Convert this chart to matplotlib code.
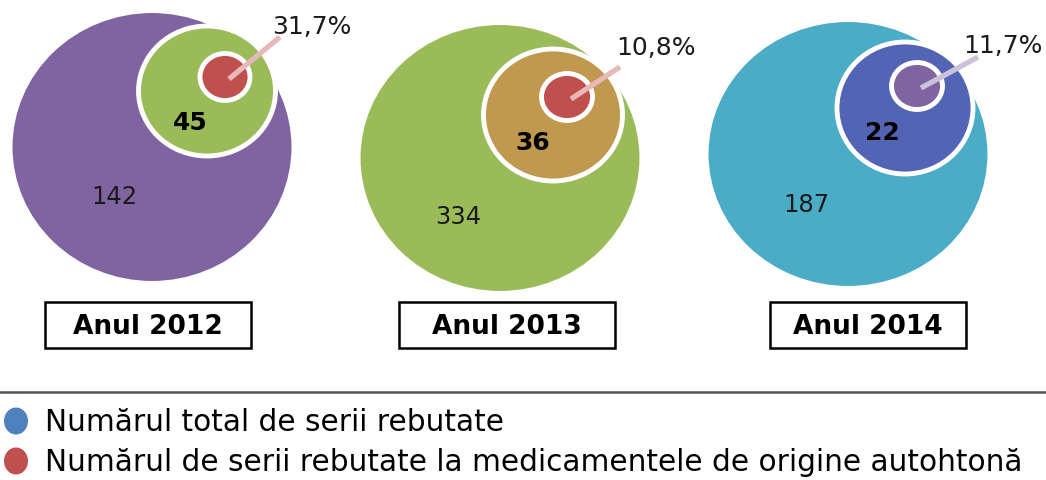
import matplotlib
matplotlib.use("Agg")
import matplotlib.pyplot as plt
from matplotlib.patches import Ellipse, Rectangle

# data
years = ["2012", "2013", "2014"]
total_rejected = [142, 334, 187]
domestic_rejected = [45, 36, 22]
domestic_share = [31.7, 10.8, 11.7]

legend_labels = ["Numărul total de serii rebutate",
                 "Numărul de serii rebutate la medicamentele de origine autohtonă"]

# colours per year: outer, middle, inner, leader line
outer_colors = ["#8064A2", "#9BBB59", "#4BACC6"]
mid_colors = ["#9BBB59", "#C0994F", "#5464B4"]
inner_colors = ["#C0504D", "#C0504D", "#8064A2"]
leader_colors = ["#E6B9B8", "#E6B9B8", "#CCC1DA"]

# layout (pixel coordinates)
outer_xy = [(152, 148), (500, 159), (848, 155)]
outer_wh = [(281, 270), (281, 268), (281, 266)]
mid_xy = [(207, 92), (553, 116), (905, 109)]
mid_wh = [(137, 130), (139, 132), (136, 132)]
inner_xy = [(225, 78), (567, 98), (917, 87)]
inner_wh = [(50, 47), (51, 47), (51, 47)]
total_lbl_xy = [(114, 197), (458, 217), (806, 205)]
dom_lbl_xy = [(190, 123), (533, 143), (882, 133)]
pct_xy = [(312, 27), (656, 48), (1003, 46)]
leader_end = [(280, 38), (620, 68), (978, 58)]
box_x = [(45, 251), (399, 615), (770, 966)]

fig = plt.figure(figsize=(10.46, 4.81), dpi=100)
ax = fig.add_axes([0, 0, 1, 1])
ax.set_xlim(0, 1046)
ax.set_ylim(481, 0)
ax.axis("off")

for i in range(3):
    ax.add_patch(Ellipse(outer_xy[i], *outer_wh[i], facecolor=outer_colors[i],
                         edgecolor="white", lw=1.5, zorder=1))
    ax.add_patch(Ellipse(mid_xy[i], *mid_wh[i], facecolor=mid_colors[i],
                         edgecolor="white", lw=3.5, zorder=2))
    ax.add_patch(Ellipse(inner_xy[i], *inner_wh[i], facecolor=inner_colors[i],
                         edgecolor="white", lw=3.5, zorder=3))
    ax.plot([inner_xy[i][0] + 4, leader_end[i][0]], [inner_xy[i][1] + 2, leader_end[i][1]],
            color=leader_colors[i], lw=3.8, solid_capstyle="butt", zorder=4)
    ax.text(*total_lbl_xy[i], str(total_rejected[i]), fontsize=17.5, color="#1a1a1a",
            ha="center", va="center", zorder=5)
    ax.text(*dom_lbl_xy[i], str(domestic_rejected[i]), fontsize=18, fontweight="bold",
            color="black", ha="center", va="center", zorder=5)
    ax.text(*pct_xy[i], f"{domestic_share[i]:.1f}%".replace(".", ","), fontsize=18,
            color="#1a1a1a", ha="center", va="center", zorder=5)
    x0, x1 = box_x[i]
    ax.add_patch(Rectangle((x0, 303), x1 - x0, 46, facecolor="white",
                           edgecolor="black", lw=1.8, zorder=5))
    ax.text((x0 + x1) / 2, 327, "Anul " + years[i], fontsize=19, fontweight="bold",
            ha="center", va="center", zorder=6)

# separator and legend
ax.plot([0, 1046], [393, 393], color="#555555", lw=1.8)
for j, (lbl, col) in enumerate(zip(legend_labels, ["#4F81BD", "#C0504D"])):
    y = 422 + j * 40
    ax.add_patch(Ellipse((16, y), 24, 27, facecolor=col, edgecolor="none"))
    ax.text(45, y + 1, lbl, fontsize=21.3, ha="left", va="center", color="black")

plt.savefig("out.png", dpi=100)
